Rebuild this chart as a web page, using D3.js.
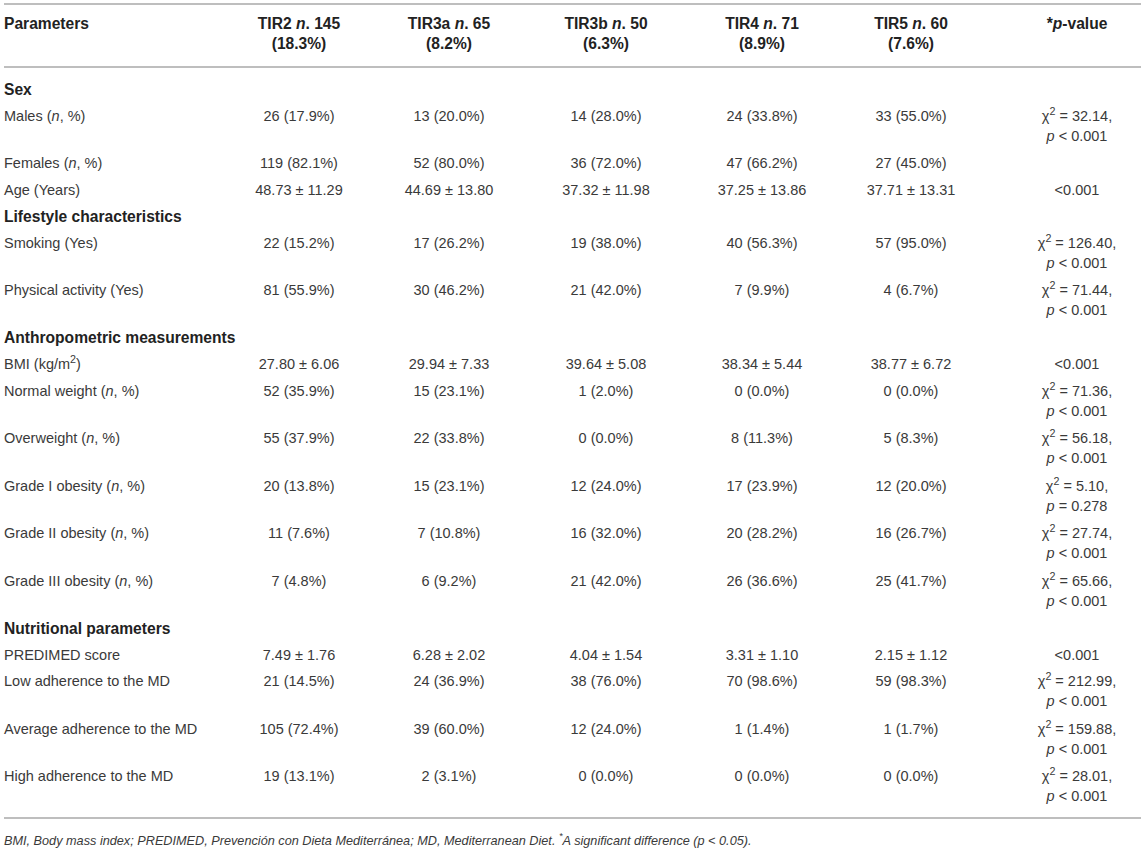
<!DOCTYPE html>
<html>
<head>
<meta charset="utf-8">
<script src="https://cdn.jsdelivr.net/npm/d3@7"></script>
<style>
  body { margin: 0; background: #fff; }
  svg { display: block; }
</style>
</head>
<body>
<svg id="table"></svg>
<script>
var width = 1145,
  height = 851;

// header cells
var columnKeys = ["label", "tir2", "tir3a", "tir3b", "tir4", "tir5", "pval"];
var headerTop = ["Parameters", "TIR2 <i>n</i>. 145", "TIR3a <i>n</i>. 65", "TIR3b <i>n</i>. 50",
  "TIR4 <i>n</i>. 71", "TIR5 <i>n</i>. 60", "*<i>p</i>-value"];
var headerBottom = ["", "(18.3%)", "(8.2%)", "(6.3%)", "(8.9%)", "(7.6%)", ""];

// row labels ("section" rows have no values)
var rowLabels = [
  "Sex", "Males (<i>n</i>, %)", "Females (<i>n</i>, %)", "Age (Years)",
  "Lifestyle characteristics", "Smoking (Yes)", "Physical activity (Yes)",
  "Anthropometric measurements", "BMI (kg/m<sup>2</sup>)", "Normal weight (<i>n</i>, %)",
  "Overweight (<i>n</i>, %)", "Grade I obesity (<i>n</i>, %)", "Grade II obesity (<i>n</i>, %)",
  "Grade III obesity (<i>n</i>, %)", "Nutritional parameters", "PREDIMED score",
  "Low adherence to the MD", "Average adherence to the MD", "High adherence to the MD"
];
var sectionRows = [0, 4, 7, 14];

var tir2 = ["", "26 (17.9%)", "119 (82.1%)", "48.73 ± 11.29", "", "22 (15.2%)", "81 (55.9%)", "",
  "27.80 ± 6.06", "52 (35.9%)", "55 (37.9%)", "20 (13.8%)", "11 (7.6%)", "7 (4.8%)", "",
  "7.49 ± 1.76", "21 (14.5%)", "105 (72.4%)", "19 (13.1%)"];
var tir3a = ["", "13 (20.0%)", "52 (80.0%)", "44.69 ± 13.80", "", "17 (26.2%)", "30 (46.2%)", "",
  "29.94 ± 7.33", "15 (23.1%)", "22 (33.8%)", "15 (23.1%)", "7 (10.8%)", "6 (9.2%)", "",
  "6.28 ± 2.02", "24 (36.9%)", "39 (60.0%)", "2 (3.1%)"];
var tir3b = ["", "14 (28.0%)", "36 (72.0%)", "37.32 ± 11.98", "", "19 (38.0%)", "21 (42.0%)", "",
  "39.64 ± 5.08", "1 (2.0%)", "0 (0.0%)", "12 (24.0%)", "16 (32.0%)", "21 (42.0%)", "",
  "4.04 ± 1.54", "38 (76.0%)", "12 (24.0%)", "0 (0.0%)"];
var tir4 = ["", "24 (33.8%)", "47 (66.2%)", "37.25 ± 13.86", "", "40 (56.3%)", "7 (9.9%)", "",
  "38.34 ± 5.44", "0 (0.0%)", "8 (11.3%)", "17 (23.9%)", "20 (28.2%)", "26 (36.6%)", "",
  "3.31 ± 1.10", "70 (98.6%)", "1 (1.4%)", "0 (0.0%)"];
var tir5 = ["", "33 (55.0%)", "27 (45.0%)", "37.71 ± 13.31", "", "57 (95.0%)", "4 (6.7%)", "",
  "38.77 ± 6.72", "0 (0.0%)", "5 (8.3%)", "12 (20.0%)", "16 (26.7%)", "25 (41.7%)", "",
  "2.15 ± 1.12", "59 (98.3%)", "1 (1.7%)", "0 (0.0%)"];
// "|" splits a cell into two lines
var pValues = ["",
  "χ<sup>2</sup> = 32.14,|<i>p</i> < 0.001", "", "<0.001", "",
  "χ<sup>2</sup> = 126.40,|<i>p</i> < 0.001", "χ<sup>2</sup> = 71.44,|<i>p</i> < 0.001", "",
  "<0.001", "χ<sup>2</sup> = 71.36,|<i>p</i> < 0.001", "χ<sup>2</sup> = 56.18,|<i>p</i> < 0.001",
  "χ<sup>2</sup> = 5.10,|<i>p</i> = 0.278", "χ<sup>2</sup> = 27.74,|<i>p</i> < 0.001",
  "χ<sup>2</sup> = 65.66,|<i>p</i> < 0.001", "", "<0.001",
  "χ<sup>2</sup> = 212.99,|<i>p</i> < 0.001", "χ<sup>2</sup> = 159.88,|<i>p</i> < 0.001",
  "χ<sup>2</sup> = 28.01,|<i>p</i> < 0.001"];

var footnote = "<i>BMI, Body mass index; PREDIMED, Prevención con Dieta Mediterránea; MD, Mediterranean Diet. <sup>*</sup>A significant difference (p < 0.05).</i>";

var rows = rowLabels.map(function(label, i) {
  return {
    label: label,
    section: sectionRows.indexOf(i) >= 0,
    tir2: tir2[i], tir3a: tir3a[i], tir3b: tir3b[i], tir4: tir4[i], tir5: tir5[i], pval: pValues[i]
  };
});

var xCol = d3.scaleOrdinal()
  .domain(columnKeys)
  .range([4, 299, 449, 606, 762, 911, 1077]);

var lineGap = 20,
  singleRow = 26.5,
  firstRowY = 89,
  ruleLeft = 4,
  ruleRight = 1141;

rows.forEach(function(r) {
  r.lines = d3.max(columnKeys, function(k) { return r[k] ? r[k].split("|").length : 1; });
});
var rowHeights = rows.map(function(r) { return singleRow + (r.lines - 1) * 21; });
var rowStarts = [0].concat(Array.from(d3.cumsum(rowHeights)));
var yRow = function(i) { return firstRowY + rowStarts[i]; };

var svg = d3.select("#table").attr("width", width).attr("height", height);

var regularColor = "#3a3a3a",
  boldColor = "#222",
  ruleColor = "#a9a9a9";

// write one line of simple markup (<i>, <sup>) into a text element
function writeLine(g, str, x, y, anchor, opts) {
  var text = g.append("text")
    .attr("x", x)
    .attr("y", y)
    .attr("dy", "0.36em")
    .attr("text-anchor", anchor)
    .attr("font-family", "'Liberation Sans', Arial, Helvetica, sans-serif")
    .attr("font-size", opts.size)
    .attr("font-weight", opts.bold ? 700 : 400)
    .attr("fill", opts.bold ? boldColor : regularColor);
  var italic = false, sup = false, raised = false;
  str.split(/(<\/?(?:i|sup)>)/).forEach(function(part) {
    if (part === "<i>") { italic = true; return; }
    if (part === "</i>") { italic = false; return; }
    if (part === "<sup>") { sup = true; return; }
    if (part === "</sup>") { sup = false; return; }
    if (!part) return;
    var t = text.append("tspan").text(part);
    if (italic) t.attr("font-style", "italic");
    if (sup) {
      t.attr("font-size", opts.size * 0.74).attr("dy", -opts.size * 0.42);
      raised = true;
    } else if (raised) {
      t.attr("dy", opts.size * 0.42);
      raised = false;
    }
  });
  return text;
}

var regularSize = 14.5,
  boldSize = 15.6;

// rules
svg.selectAll("line.rule")
  .data([4, 67, 818])
  .enter()
  .append("line")
  .attr("class", "rule")
  .attr("x1", ruleLeft)
  .attr("x2", ruleRight)
  .attr("y1", function(d) { return d; })
  .attr("y2", function(d) { return d; })
  .attr("stroke", ruleColor)
  .attr("stroke-width", 1.6);

// header
var header = svg.append("g").attr("class", "header");
columnKeys.forEach(function(k, i) {
  var anchor = k === "label" ? "start" : "middle";
  writeLine(header, headerTop[i], xCol(k), 23, anchor, { size: boldSize, bold: true });
  if (headerBottom[i]) {
    writeLine(header, headerBottom[i], xCol(k), 23 + lineGap, anchor, { size: boldSize, bold: true });
  }
});

// body
var body = svg.append("g").attr("class", "body");
rows.forEach(function(r, i) {
  var y0 = yRow(i);
  columnKeys.forEach(function(k) {
    if (!r[k]) return;
    var anchor = k === "label" ? "start" : "middle";
    var opts = r.section ? { size: boldSize, bold: true } : { size: regularSize, bold: false };
    r[k].split("|").forEach(function(line, j) {
      writeLine(body, line, xCol(k), y0 + j * lineGap, anchor, opts);
    });
  });
});

// footnote
writeLine(svg, footnote, 4, 840, "start", { size: 12.7, bold: false });
</script>
</body>
</html>
